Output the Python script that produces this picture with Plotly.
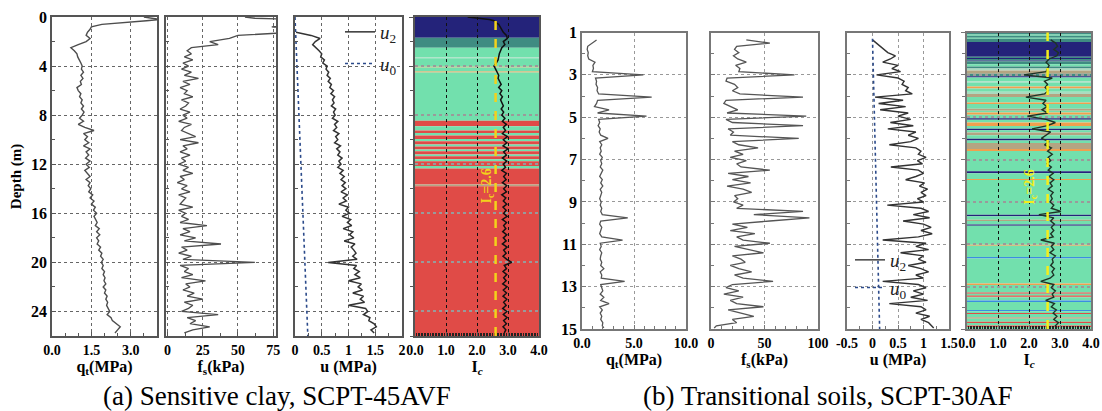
import plotly.graph_objects as go

# ---------------- DATA: (a) Sensitive clay, SCPT-45AVF ----------------
DEPTH_A = [0.0, 0.1, 0.2, 0.3, 0.45, 0.6, 0.8, 1.0,
           1.25, 1.5, 1.75, 2.0, 2.25, 2.5, 2.75, 3.0,
           3.25, 3.5, 3.75, 4.0, 4.25, 4.5, 4.75, 5.0,
           5.25, 5.5, 5.75, 6.0, 6.25, 6.5, 6.75, 7.0,
           7.25, 7.5, 7.75, 8.0, 8.25, 8.5, 8.75, 9.0,
           9.25, 9.5, 9.75, 10.0, 10.25, 10.5, 10.75, 11.0,
           11.25, 11.5, 11.75, 12.0, 12.25, 12.5, 12.75, 13.0,
           13.25, 13.5, 13.75, 14.0, 14.25, 14.5, 14.75, 15.0,
           15.25, 15.5, 15.75, 16.0, 16.25, 16.5, 16.75, 17.0,
           17.25, 17.5, 17.75, 18.0, 18.25, 18.5, 18.75, 19.0,
           19.25, 19.5, 19.75, 20.0, 20.25, 20.5, 20.75, 21.0,
           21.25, 21.5, 21.75, 22.0, 22.25, 22.5, 22.75, 23.0,
           23.25, 23.5, 23.75, 24.0, 24.25, 24.5, 24.75, 25.0,
           25.25, 25.5, 25.75]

QT_A = [3.5, 3.9, 4.1, 3.6, 2.8, 1.9, 1.5, 1.45,
        1.35, 1.3, 1.45, 1.3, 1.0, 0.72, 0.85, 0.95,
        0.98, 1.05, 1.1, 1.15, 1.12, 1.2, 1.1, 1.18,
        1.08, 1.12, 0.95, 1.0, 1.1, 1.05, 1.15, 1.1,
        1.2, 1.12, 1.22, 1.15, 1.05, 1.2, 1.0, 1.25,
        1.6, 1.2, 1.35, 1.25, 1.4, 1.2, 1.45, 1.3,
        1.4, 1.28, 1.45, 1.3, 1.42, 1.25, 1.35, 1.45,
        1.3, 1.45, 1.38, 1.48, 1.4, 1.55, 1.45, 1.6,
        1.5, 1.65, 1.58, 1.7, 1.6, 1.66, 1.72, 1.65,
        1.8, 1.7, 1.82, 1.7, 1.78, 1.72, 1.85, 1.78,
        1.9, 1.85, 1.95, 1.88, 1.95, 1.9, 2.0, 1.95,
        2.02, 1.98, 2.05, 1.95, 2.05, 2.0, 2.1, 2.05,
        2.12, 2.08, 2.15, 2.2, 2.1, 2.25, 2.3, 2.45,
        2.6, 2.5, 2.4]

FS_A = [55, 62, 90, 95, 92, 90, 74, 92,
        88, 50, 44, 30, 36, 17, 14, 17,
        12, 18, 11, 15, 10, 17, 12, 22,
        11, 16, 9, 14, 12, 18, 10, 15,
        13, 9, 16, 11, 14, 8, 17, 12,
        10, 15, 20, 9, 22, 11, 14, 9,
        16, 10, 13, 8, 15, 11, 18, 9,
        12, 7, 14, 10, 16, 8, 13, 11,
        9, 18, 8, 13, 10, 15, 9, 28,
        11, 16, 9, 20, 12, 38, 10, 14,
        8, 17, 11, 62, 9, 15, 12, 18,
        10, 27, 13, 16, 11, 19, 14, 25,
        12, 18, 15, 10, 36, 14, 20, 16,
        30, 18, 12]

U2_A = [None, None, None, None, None, None, None, None,
        0.02, 0.3, 0.47, 0.38, 0.33, 0.4, 0.45, 0.5,
        0.48, 0.55, 0.52, 0.6, 0.58, 0.63, 0.6, 0.66,
        0.62, 0.68, 0.65, 0.72, 0.67, 0.74, 0.7, 0.73,
        0.68, 0.76, 0.72, 0.75, 0.7, 0.8, 0.74, 0.78,
        0.72, 0.82, 0.76, 0.8, 0.74, 0.85, 0.78, 0.84,
        0.8, 0.88, 0.82, 0.86, 0.8, 0.9, 0.84, 0.92,
        0.86, 0.94, 0.88, 0.95, 0.86, 0.98, 0.9, 0.96,
        0.82, 1.0, 0.95, 1.02, 0.88, 1.04, 0.98, 1.06,
        0.9, 1.08, 1.02, 1.1, 0.92, 1.12, 1.05, 1.1,
        1.14, 1.08, 1.16, 0.62, 1.15, 1.1, 1.2, 1.12,
        1.22, 1.0, 1.24, 1.18, 1.26, 1.08, 1.28, 1.22,
        1.3, 1.0, 1.32, 1.36, 1.28, 1.4, 1.38, 1.48,
        1.52, 1.42, 1.48]

IC_A = [1.7, 2.1, 2.4, 2.55, 2.6, 2.7, 2.75, 2.8,
        2.85, 2.95, 2.98, 2.85, 2.9, 2.8, 2.75, 2.72,
        2.7, 2.68, 2.62, 2.55, 2.6, 2.65, 2.7, 2.68,
        2.72, 2.78, 2.7, 2.8, 2.74, 2.82, 2.76, 2.8,
        2.85, 2.78, 2.86, 2.8, 2.9, 2.82, 2.95, 2.85,
        2.92, 2.82, 2.98, 2.85, 2.96, 2.84, 3.0, 2.86,
        2.95, 2.82, 2.96, 2.85, 2.92, 2.8, 2.95, 2.86,
        2.94, 2.82, 2.96, 2.86, 2.95, 2.8, 2.93, 2.85,
        2.96, 2.84, 2.94, 2.86, 2.97, 2.82, 2.95, 2.86,
        2.93, 2.83, 2.96, 2.85, 2.94, 2.82, 2.97, 2.86,
        2.94, 2.84, 2.96, 3.12, 2.88, 2.95, 2.84, 2.96,
        2.86, 2.94, 2.83, 2.97, 2.85, 2.95, 2.84, 2.96,
        2.86, 2.94, 2.83, 2.96, 2.85, 2.97, 2.86, 2.95,
        2.84, 2.93, 2.88]

U0_A_DEPTH = [0.0, 26.0]
U0_A = [0.0, 0.24]

LAYER_EDGES_A = [0.0, 1.7, 2.5, 3.3, 3.36, 4.05, 4.12, 4.45, 4.52, 8.45,
                 8.9, 9.25, 9.45, 9.65, 9.95, 10.12, 10.4, 10.55, 10.8, 10.95,
                 11.2, 11.35, 11.6, 11.75, 12.15, 12.35, 13.65, 13.8, 26.0]
LAYER_CODES_A = [0, 1, 2, 7, 2, 4, 2, 4, 2,
                 3, 2, 3, 2, 3, 2, 3, 2, 3, 2, 3, 2, 3, 2, 3, 2, 3, 5, 3]

# ---------------- DATA: (b) Transitional soils, SCPT-30AF ----------------
DEPTH_B = [1.35, 1.5, 1.65, 1.8, 1.95, 2.1, 2.25, 2.4, 2.55, 2.7,
           2.85, 3.0, 3.15, 3.3, 3.45, 3.6, 3.75, 3.9, 4.05, 4.2,
           4.35, 4.5, 4.65, 4.8, 4.95, 5.1, 5.25, 5.4, 5.55, 5.7,
           5.85, 6.0, 6.15, 6.3, 6.45, 6.6, 6.75, 6.9, 7.05, 7.2,
           7.35, 7.5, 7.65, 7.8, 7.95, 8.1, 8.25, 8.4, 8.55, 8.7,
           8.85, 9.0, 9.15, 9.3, 9.45, 9.6, 9.75, 9.9, 10.05, 10.2,
           10.35, 10.5, 10.65, 10.8, 10.95, 11.1, 11.25, 11.4, 11.55, 11.7,
           11.85, 12.0, 12.15, 12.3, 12.45, 12.6, 12.75, 12.9, 13.05, 13.2,
           13.35, 13.5, 13.65, 13.8, 13.95, 14.1, 14.25, 14.4, 14.55, 14.7,
           14.85, 14.95]

QT_B = [1.4, 1.0, 0.55, 0.5, 0.6, 0.55, 0.65, 1.25, 1.05, 1.1,
        1.0, 5.9, 1.3, 1.4, 1.35, 1.5, 1.45, 1.6, 6.7, 1.5,
        1.4, 1.2, 2.6, 1.5, 6.2, 1.6, 1.7, 1.55, 1.75, 1.65,
        1.8, 2.5, 1.7, 1.9, 1.75, 1.85, 1.7, 1.95, 1.8, 1.9,
        1.75, 2.0, 1.85, 1.7, 1.95, 1.8, 2.0, 1.75, 1.9, 1.8,
        1.7, 1.85, 1.75, 1.9, 1.8, 1.95, 4.4, 1.8, 1.7, 1.9,
        1.8, 1.7, 1.9, 3.9, 1.75, 1.85, 1.7, 1.9, 1.8, 1.75,
        1.9, 1.8, 2.1, 1.75, 1.9, 1.85, 4.1, 1.8, 1.9, 2.0,
        1.75, 2.1, 1.8, 2.6, 1.7, 1.95, 1.75, 1.9, 1.8, 2.0,
        1.95, 2.1]

FS_B = [33, 55, 24, 22, 26, 21, 25, 33, 23, 27,
        26, 78, 15, 14, 22, 25, 20, 27, 86, 14,
        12, 18, 25, 15, 89, 14, 20, 86, 16, 21,
        18, 82, 20, 26, 44, 22, 30, 18, 33, 24,
        28, 55, 16, 35, 20, 37, 15, 30, 38, 22,
        25, 21, 30, 24, 86, 40, 92, 55, 20, 34,
        18, 41, 24, 30, 55, 22, 35, 49, 20, 28,
        32, 18, 26, 38, 22, 30, 58, 20, 14, 26,
        12, 30, 18, 24, 49, 16, 28, 40, 20, 24,
        5, 3]

U2_B = [0.0, 0.08, 0.15, 0.22, 0.3, 0.45, 0.35, 0.2, 0.5, 0.38,
        0.55, 0.08, 0.5, 0.62, 0.58, 0.7, 0.65, 0.78, 0.05, 0.6,
        0.12, 0.65, 0.15, 0.7, 0.5, 0.75, 0.35, 0.8, 0.3, 0.85,
        0.7, 0.9, 0.75, 0.33, 0.85, 0.95, 0.9, 1.05, 0.88, 0.98,
        0.36, 0.9, 1.0, 0.85, 0.65, 1.02, 0.92, 1.08, 0.95, 1.05,
        0.88, 1.0, 0.29, 0.95, 1.1, 0.8, 1.12, 0.6, 1.0, 1.15,
        0.95, 1.17, 0.9, 0.2, 1.05, 0.85, 1.1, 0.55, 1.0, 0.9,
        1.05, 0.7, 0.95, 1.1, 0.85, 1.0, 0.2, 0.9, 1.05, 0.8,
        1.0, 0.75, 1.08, 0.33, 0.95, 1.05, 0.85, 1.12, 0.95, 1.1,
        1.15, 1.2]

IC_B = [2.7, 2.86, 2.92, 2.8, 2.95, 2.9, 2.65, 2.55, 2.65, 2.6,
        2.55, 1.84, 2.75, 2.5, 2.6, 2.52, 2.62, 2.5, 1.9, 2.55,
        2.45, 2.58, 2.42, 2.6, 1.95, 2.55, 2.85, 2.6, 2.1, 2.7,
        2.55, 2.4, 2.65, 2.5, 2.72, 2.6, 2.75, 2.62, 2.7, 2.58,
        2.72, 2.62, 2.78, 2.65, 2.8, 2.68, 2.75, 2.62, 2.78, 2.7,
        2.75, 2.68, 2.8, 2.72, 3.03, 2.32, 2.8, 2.7, 2.82, 2.72,
        2.8, 2.7, 2.78, 2.38, 2.82, 2.72, 2.8, 2.68, 2.85, 2.75,
        2.78, 2.7, 2.82, 2.74, 2.8, 2.68, 2.38, 2.8, 2.72, 2.85,
        2.75, 2.8, 2.54, 2.82, 2.72, 2.88, 2.78, 2.9, 2.8, 2.95,
        2.85, 2.9]

U0_B_DEPTH = [1.3, 15.0]
U0_B = [0.0, 0.14]

LAYER_EDGES_B = [1.0, 1.1, 1.15, 1.25, 1.3, 1.45, 2.15, 2.2, 2.25, 2.32,
                 2.36, 2.5, 2.6, 2.7, 2.8, 2.95, 3.07, 3.13, 3.3, 3.36,
                 3.55, 3.65, 3.8, 3.9, 4.05, 4.3, 4.38, 4.6, 4.7, 4.78,
                 4.88, 5.05, 5.12, 5.25, 5.42, 5.55, 5.62, 5.72, 5.85, 6.02,
                 6.1, 6.22, 6.5, 6.6, 7.55, 7.65, 7.92, 7.97, 9.6, 9.68,
                 9.84, 9.9, 10.07, 10.13, 11.02, 11.07, 11.6, 11.67, 12.85, 12.92,
                 13.28, 13.33, 13.4, 13.45, 13.5, 13.66, 13.73, 14.1, 14.16, 14.24,
                 14.29, 14.45, 14.52, 14.66, 14.72, 14.84, 14.9, 15.0]
LAYER_CODES_B = [1, 2, 1, 2, 1, 0, 1, 0, 1, 0,
                 1, 2, 1, 7, 5, 1, 0, 2, 7, 2,
                 4, 2, 7, 5, 2, 4, 2, 5, 2, 4,
                 2, 0, 2, 4, 2, 0, 2, 5, 2, 0,
                 2, 5, 4, 2, 0, 2, 4, 2, 0, 2,
                 5, 2, 0, 2, 4, 2, 6, 2, 4, 2,
                 3, 2, 5, 3, 2, 6, 2, 6, 2, 3,
                 2, 5, 2, 3, 2, 3, 2]

SOIL_COLORS = ["#24237a", "#3f8c82", "#72e0ad", "#e04b47",
               "#f0a04e", "#b4a482", "#3b8de0", "#a9dcc0"]
IC_LIMIT = 2.6

CAPTION_A = "(a) Sensitive clay, SCPT-45AVF"
CAPTION_B = "(b) Transitional soils, SCPT-30AF"

# ---------------- FIGURE ----------------
W, H = 1102, 411
FONT = "Liberation Serif"


def xd(a, b):
    return [a / W, b / W]


def yd(top, bottom):
    return [1 - bottom / H, 1 - top / H]


fig = go.Figure()

A_YDOM = yd(17, 336)
B_YDOM = yd(32.5, 329)
XDOMS = [xd(52, 157), xd(166, 276), xd(295, 402), xd(415, 539),
         xd(582, 686), xd(711, 818), xd(847, 949), xd(967, 1091)]


def tf(size=13):
    return dict(family=FONT, size=size, color="black", weight="bold")


def ax_name(kind, i):
    return kind if i == 1 else f"{kind}{i}"


def ref(kind, i):
    return kind if i == 1 else f"{kind}{i}"


X_SPECS = [
    ([0, 4.0], [0, 1.5, 3.0], ["0.0", "1.5", "3.0"], "q<sub>t</sub>(MPa)", 0.5),
    ([-1, 77], [0, 25, 50, 75], ["0", "25", "50", "75"], "f<sub>s</sub>(kPa)", 12.5),
    ([0, 2], [0, 0.5, 1, 1.5, 2], ["0", "0.5", "1", "1.5", "2"], "u (MPa)", 0.25),
    ([0, 4], [0, 1, 2, 3, 4], ["0.0", "1.0", "2.0", "3.0", "4.0"], "I<sub><i>c</i></sub>", 0.05),
    ([0, 10], [0, 5, 10], ["0.0", "5.0", "10.0"], "q<sub>t</sub>(MPa)", 1),
    ([0, 100], [0, 50, 100], ["0", "50", "100"], "f<sub>s</sub>(kPa)", 10),
    ([-0.5, 1.5], [-0.5, 0, 0.5, 1, 1.5], ["-0.5", "0", "0.5", "1", "1.5"], "u (MPa)", 0.25),
    ([0, 4], [0, 1, 2, 3, 4], ["0.0", "1.0", "2.0", "3.0", "4.0"], "I<sub><i>c</i></sub>", 0.05),
]

for i in range(1, 9):
    rng, tv, tt, title, mdt = X_SPECS[i - 1]
    is_a = i <= 4
    is_ic = i in (4, 8)
    frame = "#555555" if is_a else "#777777"
    fig.layout[ax_name("xaxis", i)] = dict(
        domain=XDOMS[i - 1], anchor=ref("y", i), range=rng, automargin=False,
        tickmode="array", tickvals=tv, ticktext=tt,
        showgrid=True,
        gridcolor="#111111" if is_ic else ("#666666" if is_a else "#999999"),
        griddash="dot", gridwidth=1,
        showline=True, mirror=True, linecolor=frame, linewidth=1.5,
        ticks="inside", ticklen=4, tickcolor=frame,
        minor=dict(ticks="inside", tick0=0, dtick=mdt, ticklen=3,
                   tickcolor="#222222" if is_ic else frame, showgrid=False),
        tickfont=tf(14), zeroline=False, fixedrange=True,
        title=dict(text=title, font=tf(16), standoff=2),
    )
    if is_a:
        yr, ytv, ydom, ymd = [26, 0], [0, 4, 8, 12, 16, 20, 24], A_YDOM, 2
    else:
        yr, ytv, ydom, ymd = [15, 1], [1, 3, 5, 7, 9, 11, 13, 15], B_YDOM, 1
    fig.layout[ax_name("yaxis", i)] = dict(
        domain=ydom, anchor=ref("x", i), range=yr, automargin=False,
        tickmode="array", tickvals=ytv, ticktext=[str(v) for v in ytv],
        showticklabels=(i in (1, 5)),
        showgrid=True,
        gridcolor="#9a9a9a" if is_ic else ("#666666" if is_a else "#999999"),
        griddash="dot", gridwidth=1.6 if is_ic else 1,
        showline=True, mirror=True, linecolor=frame, linewidth=1.5,
        ticks="outside" if is_ic else "inside", ticklen=4, tickcolor=frame,
        minor=dict(ticks="outside" if is_ic else "inside", dtick=ymd, tick0=0 if is_a else 1,
                   ticklen=3, tickcolor=frame, showgrid=False),
        tickfont=tf(16), zeroline=False, fixedrange=True,
    )

fig.layout.yaxis.title = dict(text="Depth (m)", font=tf(15), standoff=6)

# soil behaviour type bands in Ic panels (drawn under the grid)
for edges, codes, axi in ((LAYER_EDGES_A, LAYER_CODES_A, 4), (LAYER_EDGES_B, LAYER_CODES_B, 8)):
    for top, bot, code in zip(edges[:-1], edges[1:], codes):
        fig.add_shape(type="rect", xref=f"x{axi} domain", yref=f"y{axi}",
                      x0=0, x1=1, y0=top, y1=bot, fillcolor=SOIL_COLORS[code],
                      line_width=0, layer="below")


def line_trace(x, y, i, color, width=1.3, dash="solid", name=None, legend=None):
    return go.Scatter(x=x, y=y, mode="lines", xaxis=ref("x", i), yaxis=ref("y", i),
                      line=dict(color=color, width=width, dash=dash),
                      showlegend=name is not None, name=name or "",
                      legend=legend, legendgroup=(legend + name) if name else None,
                      hoverinfo="skip")


U2_NAME = "<i>u</i><sub>2</sub>"
U0_NAME = "<i>u</i><sub>0</sub>"

fig.add_trace(line_trace(QT_A, DEPTH_A, 1, "#4d4d4d", 1.4))
fig.add_trace(line_trace(FS_A, DEPTH_A, 2, "#4d4d4d", 1.3))
fig.add_trace(line_trace(U2_A, DEPTH_A, 3, "#333333", 1.5, name=U2_NAME, legend="legend"))
fig.add_trace(line_trace(U0_A, U0_A_DEPTH, 3, "#2b4a8a", 1.6, "dot", name=U0_NAME, legend="legend"))
fig.add_trace(line_trace(IC_A, DEPTH_A, 4, "#111111", 1.5))

fig.add_trace(line_trace(QT_B, DEPTH_B, 5, "#555555", 1.3))
fig.add_trace(line_trace(FS_B, DEPTH_B, 6, "#555555", 1.3))
fig.add_trace(line_trace(U2_B, DEPTH_B, 7, "#333333", 1.4, name=U2_NAME, legend="legend2"))
fig.add_trace(line_trace(U0_B, U0_B_DEPTH, 7, "#2b4a8a", 1.6, "dot", name=U0_NAME, legend="legend2"))
fig.add_trace(line_trace(IC_B, DEPTH_B, 8, "#1e3326", 1.4))

# Ic = 2.6 boundary lines and labels
for axi, col, lx, ly in ((4, "#f3d21b", 2.33, 13.8), (8, "#f5ee1a", 2.05, 8.3)):
    fig.add_shape(type="line", xref=f"x{axi}", yref=f"y{axi} domain",
                  x0=IC_LIMIT, x1=IC_LIMIT, y0=0, y1=1,
                  line=dict(color=col, width=2.5, dash="dash"), layer="above")
    fig.add_annotation(x=lx, y=ly, xref=f"x{axi}", yref=f"y{axi}",
                       text=f"I<sub>c</sub>={IC_LIMIT}", textangle=-90, showarrow=False,
                       font=dict(family=FONT, size=14, color=col, weight="bold"))

# captions
for txt, cx in ((CAPTION_A, 277), (CAPTION_B, 828)):
    fig.add_annotation(x=cx / W, y=1 - 396 / H, xref="paper", yref="paper",
                       xanchor="center", yanchor="middle",
                       text=txt, showarrow=False,
                       font=dict(family=FONT, size=27, color="black"))

leg_common = dict(xanchor="left", yanchor="top", bgcolor="rgba(0,0,0,0)",
                  font=dict(family=FONT, size=19, color="#222222"),
                  itemwidth=30, traceorder="grouped")
fig.update_layout(
    width=W, height=H, margin=dict(l=0, r=0, t=0, b=0, autoexpand=False),
    paper_bgcolor="white", plot_bgcolor="white",
    legend=dict(x=340 / W, y=1 - 13 / H, tracegroupgap=4, **leg_common),
    legend2=dict(x=850 / W, y=1 - 241 / H, tracegroupgap=0, **leg_common),
)

fig.write_html("out.html", config={"displayModeBar": False},
               post_script="document.body.style.margin='0px';")
